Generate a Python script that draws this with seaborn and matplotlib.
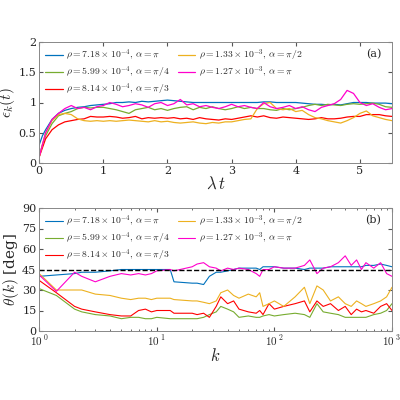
import numpy as np
import pandas as pd
import seaborn as sns
import matplotlib.pyplot as plt

sns.set_style("ticks")
plt.rcParams['font.family'] = ['DejaVu Serif']
plt.rcParams['mathtext.fontset'] = 'cm'

# panel (a): epsilon_k(t)
t = [0, 0.05] + [round(0.1 * i, 1) for i in range(1, 56)]
eps_blue = [0.3, 0.45] + [0.55, 0.72, 0.82, 0.87, 0.9, 0.92, 0.93, 0.95, 0.96, 0.97] + [0.98, 1.0, 1.0, 1.01, 1.0, 1.02, 1.01, 1.02, 1.03, 1.04] + [1.03, 1.02, 1.01, 1.0, 1.0, 1.0, 1.0, 1.0, 1.0, 1.0] + [1.0, 1.0, 1.0, 1.0, 1.01, 1.01, 1.0, 1.0, 1.0, 1.0] + [0.99, 0.98, 0.97, 0.97, 0.96, 0.97, 0.96, 0.98, 1.0, 1.0] + [1.0, 0.99, 0.99, 0.99, 0.98]
eps_green = [0.1, 0.3] + [0.45, 0.65, 0.78, 0.82, 0.85, 0.9, 0.92, 0.91, 0.92, 0.92] + [0.9, 0.88, 0.85, 0.82, 0.88, 0.9, 0.92, 0.88, 0.9, 0.87] + [0.9, 0.92, 0.93, 0.88, 0.92, 0.9, 0.93, 0.9, 0.88, 0.9] + [0.93, 0.9, 0.92, 0.9, 0.9, 0.88, 0.87, 0.9, 0.88, 0.9] + [0.92, 0.95, 0.97, 0.95, 0.97, 0.96, 0.95, 0.97, 0.98, 0.97] + [0.98, 0.99, 0.97, 0.93, 0.92]
eps_red = [0.1, 0.25] + [0.4, 0.55, 0.63, 0.68, 0.7, 0.72, 0.73, 0.77, 0.76, 0.76] + [0.77, 0.76, 0.74, 0.75, 0.77, 0.73, 0.75, 0.74, 0.75, 0.74] + [0.75, 0.73, 0.74, 0.72, 0.75, 0.73, 0.72, 0.71, 0.73, 0.72] + [0.74, 0.76, 0.78, 0.76, 0.78, 0.75, 0.74, 0.76, 0.75, 0.74] + [0.73, 0.72, 0.73, 0.75, 0.73, 0.73, 0.74, 0.76, 0.77, 0.77] + [0.8, 0.8, 0.8, 0.78, 0.77]
eps_orange = [0.1, 0.3] + [0.5, 0.7, 0.8, 0.82, 0.8, 0.73, 0.7, 0.69, 0.7, 0.69] + [0.7, 0.69, 0.7, 0.71, 0.7, 0.69, 0.68, 0.7, 0.68, 0.69] + [0.67, 0.66, 0.67, 0.68, 0.66, 0.65, 0.67, 0.66, 0.68, 0.68] + [0.7, 0.72, 0.73, 0.9, 0.98, 1.0, 0.9, 0.88, 0.9, 0.85] + [0.87, 0.8, 0.75, 0.73, 0.7, 0.68, 0.66, 0.7, 0.75, 0.82] + [0.86, 0.78, 0.75, 0.72, 0.7]
eps_magenta = [0.1, 0.3] + [0.5, 0.72, 0.82, 0.9, 0.95, 0.9, 0.92, 0.88, 0.93, 0.95] + [1.0, 0.97, 0.93, 0.95, 0.98, 0.96, 0.92, 0.98, 1.0, 0.95] + [0.98, 1.05, 0.96, 0.98, 0.93, 0.95, 0.92, 0.9, 0.93, 0.97] + [0.93, 0.95, 0.92, 0.9, 1.0, 0.93, 0.9, 0.92, 0.95, 0.9] + [0.93, 0.88, 0.85, 0.92, 0.95, 0.98, 1.05, 1.2, 1.15, 1.0] + [0.95, 0.98, 0.92, 0.88, 0.9]

# panel (b): theta(k)
k = [1, 1.4, 2, 2.3, 3, 4, 5, 6, 7, 8, 9, 10, 13, 14, 20, 22, 25, 28, 32, 35, 40, 45, 50, 60, 70, 75, 80, 90, 100, 120,
     150, 180, 200, 230, 260, 300, 350, 400, 450, 500, 550, 600, 700, 800, 900, 1000]
th_blue = [40, 41, 42, 43, 43, 44, 45, 45, 45, 45, 45, 45, 45, 36, 35, 35, 34, 40, 43, 43, 44, 45, 46, 46, 46, 45, 47, 47, 47, 46, 46, 45, 46, 46, 46, 47, 47, 47, 47, 47, 47, 48, 48, 49, 48, 47]
th_magenta = [41, 29, 43, 40, 36, 40, 42, 41, 42, 41, 42, 44, 45, 44, 47, 49, 50, 47, 46, 44, 46, 45, 46, 45, 42, 40, 45, 45, 47, 46, 46, 48, 52, 42, 46, 47, 50, 55, 48, 52, 45, 50, 46, 50, 42, 40]
th_orange = [42, 30, 30, 30, 27, 26, 24, 23, 24, 24, 23, 24, 24, 23, 22, 22, 21, 20, 22, 28, 30, 26, 24, 27, 25, 28, 18, 20, 22, 18, 25, 32, 20, 33, 30, 22, 25, 20, 18, 22, 20, 18, 20, 22, 25, 32]
th_red = [37, 28, 18, 16, 14, 12, 11, 11, 15, 16, 14, 15, 15, 13, 13, 12, 13, 10, 18, 25, 20, 22, 16, 14, 13, 15, 12, 20, 16, 18, 20, 22, 14, 22, 18, 20, 15, 18, 12, 16, 14, 15, 13, 18, 20, 15]
th_green = [31, 26, 16, 14, 12, 11, 9, 10, 10, 9, 9, 10, 9, 9, 9, 9, 10, 12, 14, 18, 16, 14, 10, 11, 10, 10, 11, 12, 11, 12, 13, 12, 10, 20, 14, 13, 12, 10, 10, 10, 10, 10, 12, 13, 15, 20]

labels = [r'$\rho = 7.18\times10^{-4},\, \alpha = \pi$',
          r'$\rho = 5.99\times10^{-4},\, \alpha = \pi/4$',
          r'$\rho = 8.14\times10^{-4},\, \alpha = \pi/3$',
          r'$\rho = 1.33\times10^{-3},\, \alpha = \pi/2$',
          r'$\rho = 1.27\times10^{-3},\, \alpha = \pi$']
colors = ['#0072BD', '#77AC30', '#FF0000', '#EDB120', '#FF00CC']

fig = plt.figure(figsize=(4, 4), dpi=100)
ax1 = fig.add_axes([0.098, 0.5925, 0.882, 0.3025])
ax2 = fig.add_axes([0.098, 0.1725, 0.882, 0.3075])

for ys, lab, c in zip([eps_blue, eps_green, eps_red, eps_orange, eps_magenta], labels, colors):
    sns.lineplot(x=t, y=ys, ax=ax1, color=c, label=lab, lw=0.9)
for ys, lab, c in zip([th_blue, th_green, th_red, th_orange, th_magenta], labels, colors):
    sns.lineplot(x=k, y=ys, ax=ax2, color=c, label=lab, lw=0.8)
ax2.axhline(45, color='k', ls='--', lw=1.0)

ax1.set_xlim(0, 5.5)
ax1.set_ylim(0, 2)
ax1.set_yticks([0, 0.5, 1, 1.5, 2])
ax1.set_yticklabels(['0', '0.5', '1', '1.5', '2'])
ax1.set_xlabel(r'$\lambda\, t$', fontsize=12, labelpad=0)
ax1.set_ylabel(r'$\epsilon_k(t)$', fontsize=11, labelpad=1)
ax1.text(0.97, 0.9, '(a)', transform=ax1.transAxes, ha='right', va='center', fontsize=8)

ax2.set_xscale('log')
ax2.set_xlim(1, 1000)
ax2.set_ylim(0, 90)
ax2.set_yticks([0, 15, 30, 45, 60, 75, 90])
ax2.set_xticks([1, 10, 100, 1000])
ax2.set_xticklabels([r'$10^{\ 0}$', r'$10^{\ 1}$', r'$10^{\ 2}$', r'$10^{\ 3}$'])
ax2.set_xlabel(r'$k$', fontsize=12, labelpad=0)
ax2.set_ylabel(r'$\theta(k)$ [deg]', fontsize=11, labelpad=1)
ax2.text(0.97, 0.9, '(b)', transform=ax2.transAxes, ha='right', va='center', fontsize=8)

for ax in (ax1, ax2):
    ax.tick_params(direction='in', top=True, right=True, labelsize=8, color='#555555', length=3, pad=2)
    ax.tick_params(which='minor', direction='in', top=True, right=True, color='#555555', length=1.5)
    for s in ax.spines.values():
        s.set_color('#888888')
        s.set_linewidth(0.7)
    ax.legend(ncol=2, loc='upper left', frameon=False,
              fontsize=7, handlelength=1.8, columnspacing=0.8, labelspacing=0.15,
              borderaxespad=0.2, handletextpad=0.4)

fig.savefig('out.png', dpi=100)
